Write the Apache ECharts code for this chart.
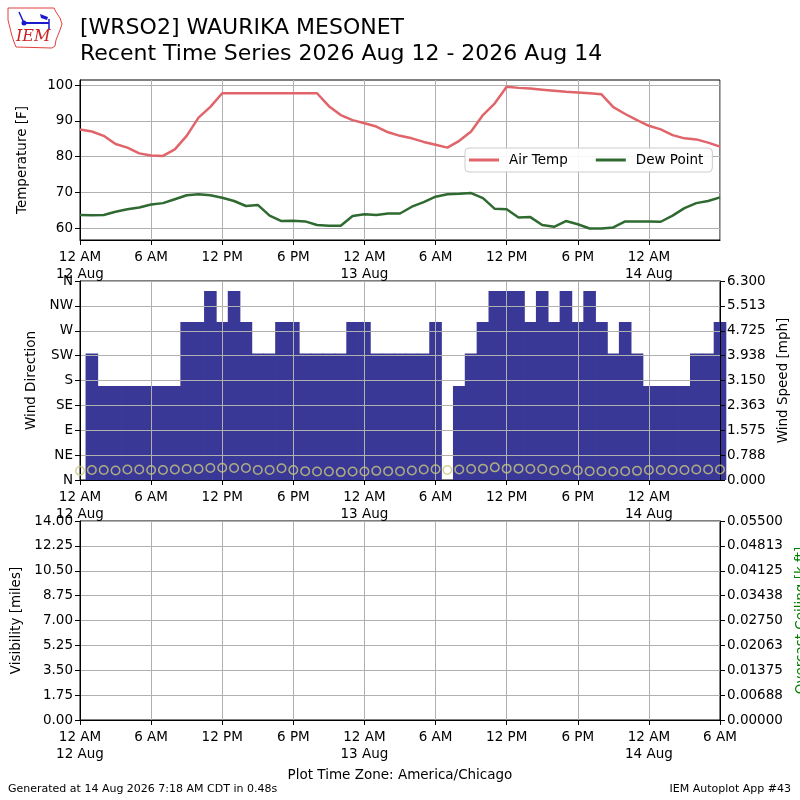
<!DOCTYPE html>
<html><head><meta charset="utf-8">
<script src="https://cdn.jsdelivr.net/npm/echarts@6/dist/echarts.min.js"></script>
<style>html,body{margin:0;padding:0;background:#fff}#c{width:800px;height:800px}</style>
</head><body><div id="c"></div>
<script>
// ---- data (hourly, hour 0 = 12 AM 12 Aug) ----
const xTickLabels = ["12 AM\n12 Aug","6 AM","12 PM","6 PM","12 AM\n13 Aug","6 AM","12 PM","6 PM","12 AM\n14 Aug","6 AM"];
const airTemp = [87.6,87.0,85.8,83.5,82.5,80.9,80.3,80.2,82.0,85.8,90.9,93.9,97.7,97.7,97.7,97.7,97.7,97.7,97.7,97.7,97.7,94.1,91.6,90.2,89.3,88.4,86.8,85.8,85.1,84.1,83.3,82.5,84.4,87.0,91.6,94.9,99.5,99.2,99.0,98.7,98.4,98.1,97.9,97.7,97.4,93.8,91.9,90.2,88.6,87.6,86.0,85.1,84.8,83.9,82.8];
const dewPoint = [63.7,63.6,63.7,64.6,65.3,65.8,66.6,67.0,68.1,69.2,69.5,69.2,68.5,67.6,66.2,66.5,63.5,62.0,62.1,61.9,60.9,60.7,60.7,63.4,63.9,63.7,64.1,64.1,66.0,67.3,68.8,69.5,69.6,69.8,68.4,65.4,65.3,63.0,63.1,60.9,60.4,62.0,61.1,59.9,59.9,60.2,61.9,61.9,61.9,61.8,63.5,65.6,67.0,67.6,68.6];
const windDir = [0,229,170,170,170,170,170,170,170,286,286,342,286,342,286,229,229,286,286,229,229,229,229,286,286,229,229,229,229,229,286,0,170,229,286,342,342,342,286,342,286,342,286,342,286,229,286,229,170,170,170,170,229,229,286];
const windSpeed = [0.29,0.315,0.315,0.30,0.33,0.33,0.315,0.315,0.33,0.35,0.35,0.38,0.39,0.38,0.38,0.315,0.315,0.37,0.315,0.28,0.27,0.27,0.25,0.27,0.27,0.29,0.28,0.28,0.30,0.33,0.34,0.315,0.33,0.35,0.36,0.40,0.36,0.36,0.35,0.35,0.30,0.33,0.30,0.28,0.28,0.27,0.28,0.29,0.315,0.315,0.315,0.315,0.33,0.33,0.33];
const tempTicks = [60,70,80,90,100];
const dirLabels = ["N","NE","E","SE","S","SW","W","NW","N"];
const speedLabels = ["0.000","0.788","1.575","2.363","3.150","3.938","4.725","5.513","6.300"];
const visLabels = ["0.00","1.75","3.50","5.25","7.00","8.75","10.50","12.25","14.00"];
const ceilLabels = ["0.00000","0.00688","0.01375","0.02063","0.02750","0.03438","0.04125","0.04813","0.05500"];

const pairs = arr => arr.map((v, i) => [i, v]);
const FONT = 'DejaVu Sans';
const FS = 13.5;
const grid = '#b0b0b0';

function xAxis(gi, showMax, z) {
  return {
    type: 'value', gridIndex: gi, min: 0, max: 54, interval: 6, z: z || 0,
    axisLine: {show: true, onZero: false, lineStyle: {color: '#000', width: 1}},
    axisTick: {show: true, length: 5, lineStyle: {color: '#000'}},
    axisLabel: {show: true, color: '#000', fontFamily: FONT, fontSize: FS, lineHeight: 17, margin: 9,
      showMinLabel: true, showMaxLabel: showMax,
      formatter: v => xTickLabels[Math.round(v / 6)] || ''},
    splitLine: {show: true, lineStyle: {color: grid, width: 1}}
  };
}
function nameCfg(name, gap, color) {
  return {name: name, nameLocation: 'middle', nameGap: gap, nameRotate: 90,
    nameTextStyle: {color: color || '#000', fontFamily: FONT, fontSize: FS}};
}
const lblStyle = {color: '#000', fontFamily: FONT, fontSize: FS, margin: 7};
const tickStyle = {show: true, length: 5, lineStyle: {color: '#000'}};
const axLine = {show: true, onZero: false, lineStyle: {color: '#000', width: 1}};
const gridBase = {left: 80, width: 640, show: true, borderColor: '#000', borderWidth: 1,
  backgroundColor: 'transparent', containLabel: false, outerBoundsMode: 'none'};

const option = {
  animation: false,
  backgroundColor: '#fff',
  textStyle: {fontFamily: FONT},
  grid: [
    Object.assign({top: 80, height: 160}, gridBase),
    Object.assign({top: 281, height: 199}, gridBase),
    Object.assign({top: 521, height: 199}, gridBase)
  ],
  xAxis: [xAxis(0, false), xAxis(1, false, 3), xAxis(2, true)],
  yAxis: [
    Object.assign({type: 'value', gridIndex: 0, min: 56.7, max: 101.4, position: 'left',
      axisLine: axLine, axisTick: Object.assign({customValues: tempTicks}, tickStyle),
      axisLabel: Object.assign({customValues: tempTicks}, lblStyle),
      splitLine: {show: true, lineStyle: {color: grid}}}, nameCfg('Temperature [F]', 51)),
    Object.assign({type: 'value', gridIndex: 1, min: 0, max: 360, interval: 45, position: 'left', z: 3,
      axisLine: axLine, axisTick: tickStyle,
      axisLabel: Object.assign({formatter: v => dirLabels[Math.round(v / 45)]}, lblStyle),
      splitLine: {show: true, lineStyle: {color: grid}}}, nameCfg('Wind Direction', 39)),
    Object.assign({type: 'value', gridIndex: 1, min: 0, max: 6.3, interval: 0.7875, position: 'right', z: 3,
      axisLine: axLine, axisTick: tickStyle,
      axisLabel: Object.assign({formatter: v => speedLabels[Math.round(v / 0.7875)]}, lblStyle),
      splitLine: {show: false}}, nameCfg('Wind Speed [mph]', 56)),
    Object.assign({type: 'value', gridIndex: 2, min: 0, max: 14, interval: 1.75, position: 'left',
      axisLine: axLine, axisTick: tickStyle,
      axisLabel: Object.assign({formatter: v => visLabels[Math.round(v / 1.75)]}, lblStyle),
      splitLine: {show: true, lineStyle: {color: grid}}}, nameCfg('Visibility [miles]', 56)),
    Object.assign({type: 'value', gridIndex: 2, min: 0, max: 0.055, interval: 0.006875, position: 'right',
      axisLine: axLine, axisTick: tickStyle,
      axisLabel: Object.assign({formatter: v => ceilLabels[Math.round(v / 0.006875)]}, lblStyle),
      splitLine: {show: false}}, nameCfg('Overcast Ceiling [k ft]', 74, '#008000'))
  ],
  legend: {
    left: 465, top: 148, orient: 'horizontal',
    itemWidth: 30, itemHeight: 3, itemGap: 28,
    padding: [5, 9, 5, 4],
    backgroundColor: 'rgba(255,255,255,0.9)', borderColor: '#cccccc', borderWidth: 1, borderRadius: 4,
    textStyle: {color: '#000', fontFamily: FONT, fontSize: FS, padding: [0, 0, 0, 5]},
    data: [{name: 'Air Temp', icon: 'rect'}, {name: 'Dew Point', icon: 'rect'}]
  },
  series: [
    {name: 'Air Temp', type: 'line', xAxisIndex: 0, yAxisIndex: 0, data: pairs(airTemp),
      showSymbol: false, symbol: 'none', color: '#e0646a', lineStyle: {color: '#e0646a', width: 2.5}, z: 3},
    {name: 'Dew Point', type: 'line', xAxisIndex: 0, yAxisIndex: 0, data: pairs(dewPoint),
      showSymbol: false, symbol: 'none', color: '#2f6a31', lineStyle: {color: '#2f6a31', width: 2.5}, z: 3},
    {name: 'Wind Direction', type: 'bar', xAxisIndex: 1, yAxisIndex: 1, data: pairs(windDir),
      barWidth: 12.6, itemStyle: {color: '#3a3897'}, z: 2},
    {name: 'Wind Speed', type: 'scatter', xAxisIndex: 1, yAxisIndex: 2, data: pairs(windSpeed),
      symbol: 'circle', symbolSize: 8.5,
      itemStyle: {color: 'rgba(0,0,0,0)', borderColor: '#cbc97c', borderWidth: 1.5}, z: 5}
  ],
  graphic: [
    {type: 'text', left: 80, top: 17, style: {text: '[WRSO2] WAURIKA MESONET', fill: '#000', font: '22px "DejaVu Sans"'}},
    {type: 'text', left: 80, top: 43, style: {text: 'Recent Time Series 2026 Aug 12 - 2026 Aug 14', fill: '#000', font: '22px "DejaVu Sans"'}},
    {type: 'text', x: 400, y: 775, style: {text: 'Plot Time Zone: America/Chicago', fill: '#000', font: '13.5px "DejaVu Sans"', align: 'center', verticalAlign: 'middle'}},
    {type: 'text', x: 8, y: 789, style: {text: 'Generated at 14 Aug 2026 7:18 AM CDT in 0.48s', fill: '#000', font: '11px "DejaVu Sans"', verticalAlign: 'middle'}},
    {type: 'text', x: 791, y: 789, style: {text: 'IEM Autoplot App #43', fill: '#000', font: '11px "DejaVu Sans"', align: 'right', verticalAlign: 'middle'}},
    // IEM logo
    {type: 'group', x: 0, y: 0, children: [
      {type: 'polyline', shape: {points: [[8,8],[54,8],[56,12],[60,18],[62,24],[60,30],[58,35],[56,40],[55,46],[52,48],[16,47],[14,42],[12,36],[10,28],[8,20],[8,8]]},
        style: {stroke: '#e04040', lineWidth: 1, fill: 'none'}},
      {type: 'line', shape: {x1: 24, y1: 23, x2: 49, y2: 23}, style: {stroke: '#1a1acc', lineWidth: 2}},
      {type: 'line', shape: {x1: 19, y1: 12, x2: 24, y2: 23}, style: {stroke: '#1a1acc', lineWidth: 1.5}},
      {type: 'polygon', shape: {points: [[40,14],[48,17],[47,20],[41,18]]}, style: {fill: '#1a1acc'}},
      {type: 'line', shape: {x1: 49, y1: 19, x2: 49, y2: 30}, style: {stroke: '#1a1acc', lineWidth: 1.5}},
      {type: 'circle', shape: {cx: 24, cy: 23, r: 2.5}, style: {fill: '#1a1acc'}},
      {type: 'text', x: 16, y: 29, style: {text: 'IEM', fill: '#cc2020', font: 'italic 16px "DejaVu Serif"'}}
    ]}
  ]
};
const chart = echarts.init(document.getElementById('c'), null, {renderer: 'canvas'});
chart.setOption(option);
</script>
</body></html>
